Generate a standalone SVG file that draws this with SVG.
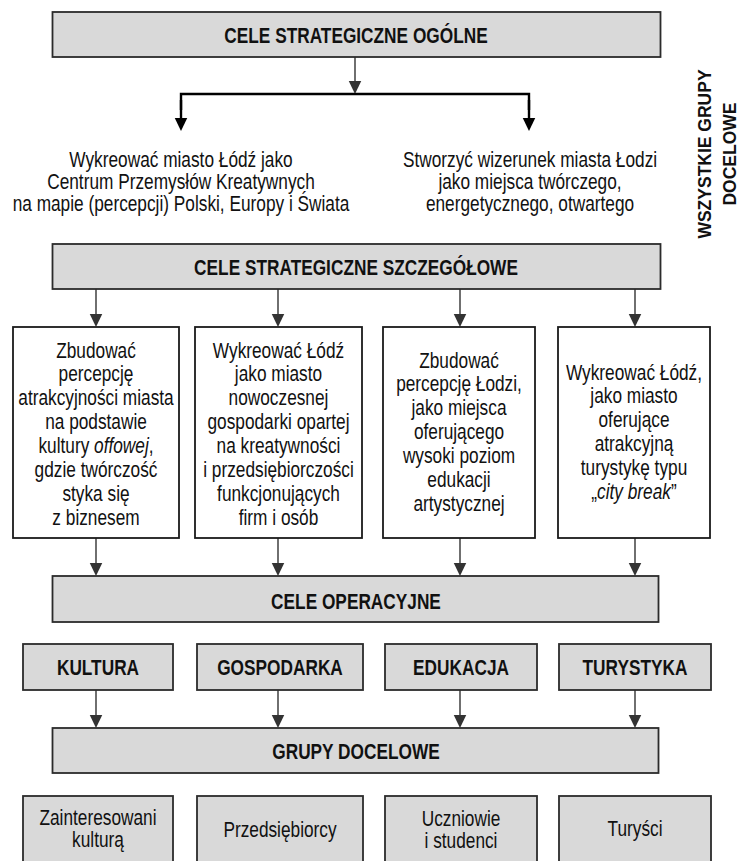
<svg xmlns="http://www.w3.org/2000/svg" width="741" height="861" viewBox="0 0 741 861">
<defs>
<style>
.t{font-family:"Liberation Sans",Arial,sans-serif;font-size:22px;fill:#111;text-anchor:middle}
.b{font-weight:bold}
.i{font-style:italic}
.gb{fill:#d9d9d9;stroke:#2b2b2b;stroke-width:1.8}
.wb{fill:#fff;stroke:#1a1a1a;stroke-width:1.8}
.thin{stroke:#333;stroke-width:1.4;fill:none}
.thick{stroke:#000;stroke-width:2.4;fill:none}
.vt{font-family:"Liberation Sans",Arial,sans-serif;font-size:17.5px;font-weight:bold;fill:#111;text-anchor:middle}
</style>
<marker id="ah" markerUnits="userSpaceOnUse" markerWidth="14" markerHeight="14" viewBox="0 0 14 14" refX="3.5" refY="7" orient="auto">
<path d="M0,0.5 L13.5,7 L0,13.5 Z" fill="#333"/>
</marker>
<marker id="ahk" markerUnits="userSpaceOnUse" markerWidth="14" markerHeight="14" viewBox="0 0 14 14" refX="3.5" refY="7" orient="auto">
<path d="M0,0.5 L13.5,7 L0,13.5 Z" fill="#000"/>
</marker>
</defs>
<rect width="741" height="861" fill="#fff"/>

<g id="connectors">
<line class="thin" x1="355" y1="57" x2="355" y2="84" marker-end="url(#ah)"/>
<polyline class="thick" points="181,110 181,94 529,94 529,110"/>
<line class="thick" x1="181" y1="100" x2="181" y2="121" marker-end="url(#ahk)"/>
<line class="thick" x1="529" y1="100" x2="529" y2="121" marker-end="url(#ahk)"/>
<line class="thin" x1="96" y1="289" x2="96" y2="317" marker-end="url(#ah)"/>
<line class="thin" x1="278" y1="289" x2="278" y2="317" marker-end="url(#ah)"/>
<line class="thin" x1="460" y1="289" x2="460" y2="317" marker-end="url(#ah)"/>
<line class="thin" x1="635" y1="289" x2="635" y2="317" marker-end="url(#ah)"/>
<line class="thin" x1="96" y1="538" x2="96" y2="566" marker-end="url(#ah)"/>
<line class="thin" x1="278" y1="538" x2="278" y2="566" marker-end="url(#ah)"/>
<line class="thin" x1="460" y1="538" x2="460" y2="566" marker-end="url(#ah)"/>
<line class="thin" x1="635" y1="538" x2="635" y2="566" marker-end="url(#ah)"/>
<line class="thin" x1="96" y1="690" x2="96" y2="718" marker-end="url(#ah)"/>
<line class="thin" x1="278" y1="690" x2="278" y2="718" marker-end="url(#ah)"/>
<line class="thin" x1="460" y1="690" x2="460" y2="718" marker-end="url(#ah)"/>
<line class="thin" x1="635" y1="690" x2="635" y2="718" marker-end="url(#ah)"/>
</g>

<g id="cele-ogolne">
<rect class="gb" x="52.5" y="12" width="608" height="45"/>
<text class="t b" transform="translate(356,43) scale(0.785,1)">CELE STRATEGICZNE OGÓLNE</text>
</g>

<g id="cel-1">
<text class="t" transform="translate(181,166.5) scale(0.785,1)"><tspan x="0">Wykreować miasto Łódź jako</tspan><tspan x="0" dy="22.5">Centrum Przemysłów Kreatywnych</tspan><tspan x="0" dy="22.5">na mapie (percepcji) Polski, Europy i Świata</tspan></text>
</g>
<g id="cel-2">
<text class="t" transform="translate(530,166.5) scale(0.785,1)"><tspan x="0">Stworzyć wizerunek miasta Łodzi</tspan><tspan x="0" dy="22.5">jako miejsca twórczego,</tspan><tspan x="0" dy="22.5">energetycznego, otwartego</tspan></text>
</g>

<g id="wszystkie-grupy">
<text class="vt" transform="translate(711,154) rotate(-90)">WSZYSTKIE GRUPY</text>
<text class="vt" transform="translate(736,154) rotate(-90)">DOCELOWE</text>
</g>

<g id="cele-szczegolowe">
<rect class="gb" x="52.5" y="244" width="608" height="45"/>
<text class="t b" transform="translate(356,275) scale(0.785,1)">CELE STRATEGICZNE SZCZEGÓŁOWE</text>
</g>

<g id="box-kultura">
<rect class="wb" x="13" y="327" width="166" height="211"/>
<text class="t" transform="translate(96,357.5) scale(0.785,1)"><tspan x="0">Zbudować</tspan><tspan x="0" dy="24">percepcję</tspan><tspan x="0" dy="24">atrakcyjności miasta</tspan><tspan x="0" dy="24">na podstawie</tspan><tspan x="0" dy="24">kultury <tspan class="i">offowej</tspan>,</tspan><tspan x="0" dy="24">gdzie twórczość</tspan><tspan x="0" dy="24">styka się</tspan><tspan x="0" dy="24">z biznesem</tspan></text>
</g>

<g id="box-gospodarka">
<rect class="wb" x="195" y="327" width="167" height="211"/>
<text class="t" transform="translate(278.5,357.5) scale(0.785,1)"><tspan x="0">Wykreować Łódź</tspan><tspan x="0" dy="24">jako miasto</tspan><tspan x="0" dy="24">nowoczesnej</tspan><tspan x="0" dy="24">gospodarki opartej</tspan><tspan x="0" dy="24">na kreatywności</tspan><tspan x="0" dy="24">i przedsiębiorczości</tspan><tspan x="0" dy="24">funkcjonujących</tspan><tspan x="0" dy="24">firm i osób</tspan></text>
</g>

<g id="box-edukacja">
<rect class="wb" x="383" y="327" width="152" height="211"/>
<text class="t" transform="translate(459,367.5) scale(0.785,1)"><tspan x="0">Zbudować</tspan><tspan x="0" dy="24">percepcję Łodzi,</tspan><tspan x="0" dy="24">jako miejsca</tspan><tspan x="0" dy="24">oferującego</tspan><tspan x="0" dy="24">wysoki poziom</tspan><tspan x="0" dy="24">edukacji</tspan><tspan x="0" dy="24">artystycznej</tspan></text>
</g>

<g id="box-turystyka">
<rect class="wb" x="558" y="327" width="152" height="211"/>
<text class="t" transform="translate(634,379.5) scale(0.785,1)"><tspan x="0">Wykreować Łódź,</tspan><tspan x="0" dy="24">jako miasto</tspan><tspan x="0" dy="24">oferujące</tspan><tspan x="0" dy="24">atrakcyjną</tspan><tspan x="0" dy="24">turystykę typu</tspan><tspan x="0" dy="24">„<tspan class="i">city break</tspan>”</tspan></text>
</g>

<g id="cele-operacyjne">
<rect class="gb" x="52.5" y="576" width="606" height="46"/>
<text class="t b" transform="translate(356,608.5) scale(0.785,1)">CELE OPERACYJNE</text>
</g>

<g id="kultura">
<rect class="gb" x="23" y="644" width="150" height="46"/>
<text class="t b" transform="translate(98,675) scale(0.785,1)">KULTURA</text>
</g>
<g id="gospodarka">
<rect class="gb" x="197" y="644" width="166" height="46"/>
<text class="t b" transform="translate(280,675) scale(0.785,1)">GOSPODARKA</text>
</g>
<g id="edukacja">
<rect class="gb" x="385" y="644" width="152" height="46"/>
<text class="t b" transform="translate(461,675) scale(0.785,1)">EDUKACJA</text>
</g>
<g id="turystyka">
<rect class="gb" x="559" y="644" width="152" height="46"/>
<text class="t b" transform="translate(635,675) scale(0.785,1)">TURYSTYKA</text>
</g>

<g id="grupy-docelowe">
<rect class="gb" x="52.5" y="728" width="606" height="45"/>
<text class="t b" transform="translate(356,758.5) scale(0.785,1)">GRUPY DOCELOWE</text>
</g>

<g id="zainteresowani">
<rect class="gb" x="23" y="796" width="150" height="72"/>
<text class="t" transform="translate(98,824.5) scale(0.785,1)"><tspan x="0">Zainteresowani</tspan><tspan x="0" dy="23">kulturą</tspan></text>
</g>
<g id="przedsiebiorcy">
<rect class="gb" x="197" y="796" width="166" height="72"/>
<text class="t" transform="translate(280,836.5) scale(0.785,1)">Przedsiębiorcy</text>
</g>
<g id="uczniowie">
<rect class="gb" x="385" y="796" width="152" height="72"/>
<text class="t" transform="translate(461,825.5) scale(0.785,1)"><tspan x="0">Uczniowie</tspan><tspan x="0" dy="23">i studenci</tspan></text>
</g>
<g id="turysci">
<rect class="gb" x="559" y="796" width="152" height="72"/>
<text class="t" transform="translate(635,835.5) scale(0.785,1)">Turyści</text>
</g>
</svg>
